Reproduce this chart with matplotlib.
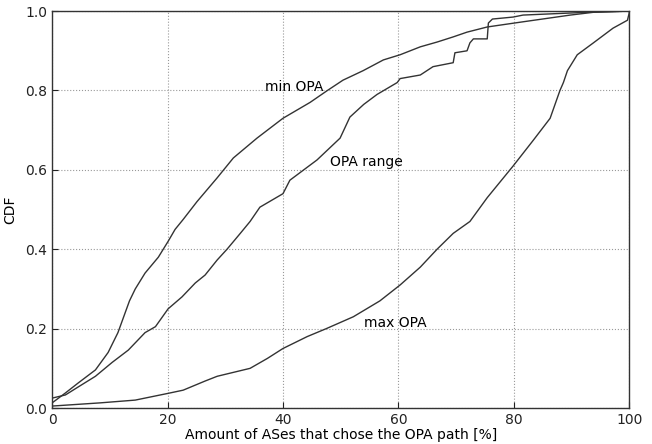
import matplotlib
matplotlib.use('Agg')
import matplotlib.pyplot as plt

# CDF curves (x = share of ASes in %, y = CDF)
min_x = [0, 2.3, 4.5, 7.5, 9.7, 11.4, 12.4, 13.4, 14.4, 16.1, 18.4, 20.1, 21.3, 22.7, 25.1,
         28.6, 31.4, 35.5, 40.0, 44.7, 47.7, 50.4, 53.9, 57.4, 60.3, 63.8, 66.7, 69.5,
         71.9, 75.4, 81.1, 89.8, 93.8, 100]
min_y = [0.013, 0.038, 0.063, 0.096, 0.14, 0.19, 0.23, 0.27, 0.30, 0.34, 0.38, 0.42, 0.45, 0.475,
         0.52, 0.58, 0.63, 0.68, 0.73, 0.77, 0.80, 0.826, 0.85, 0.877, 0.89, 0.91, 0.922,
         0.935, 0.947, 0.96, 0.972, 0.99, 0.997, 1.0]

range_x = [0, 2.3, 4.5, 7.5, 10.4, 13.2, 16.1, 17.9, 20.1, 22.5, 24.8, 26.5, 28.6, 30.3,
           32.6, 34.3, 36.0, 40.0, 41.2, 45.9, 49.9, 51.6, 54.0, 56.3, 59.8, 60.3, 63.8,
           66.0, 69.5, 69.8, 71.9, 72.4, 73.0, 75.4, 75.6, 76.3, 79.9, 81.6, 92.7, 100]
range_y = [0.025, 0.033, 0.053, 0.08, 0.115, 0.146, 0.19, 0.205, 0.25, 0.28, 0.315, 0.335, 0.373,
           0.40, 0.44, 0.47, 0.506, 0.54, 0.574, 0.625, 0.68, 0.733, 0.765, 0.79, 0.82, 0.83,
           0.839, 0.86, 0.87, 0.895, 0.90, 0.92, 0.93, 0.93, 0.97, 0.98, 0.985, 0.99, 0.997, 1.0]

max_x = [0, 8.3, 14.4, 20.1, 22.7, 26.5, 28.6, 34.3, 37.3, 40.0, 44.2, 47.5, 52.2, 56.8,
         60.3, 63.8, 66.7, 69.5, 72.4, 75.4, 79.9, 83.4, 86.3, 88.0, 88.6, 89.3, 91.0,
         93.8, 97.2, 99.7, 100, 100]
max_y = [0.005, 0.013, 0.02, 0.037, 0.045, 0.068, 0.08, 0.10, 0.125, 0.15, 0.18, 0.20, 0.23,
         0.27, 0.31, 0.355, 0.40, 0.44, 0.47, 0.53, 0.61, 0.675, 0.73, 0.80, 0.82, 0.85,
         0.89, 0.92, 0.957, 0.977, 0.995, 1.0]

fig = plt.figure(figsize=(6.52, 4.44), dpi=100)
ax = fig.add_axes([0.080, 0.081, 0.885, 0.894])

line_color = '#333333'
ax.plot(min_x, min_y, color=line_color, linewidth=1.0)
ax.plot(range_x, range_y, color=line_color, linewidth=1.0)
ax.plot(max_x, max_y, color=line_color, linewidth=1.0)

ax.text(36.9, 0.81, 'min OPA', fontsize=10, va='center')
ax.text(48.2, 0.62, 'OPA range', fontsize=10, va='center')
ax.text(54.0, 0.215, 'max OPA', fontsize=10, va='center')

ax.set_xlim(0, 100)
ax.set_ylim(0, 1.0)
ax.set_xticks([0, 20, 40, 60, 80, 100])
ax.set_yticks([0.0, 0.2, 0.4, 0.6, 0.8, 1.0])
ax.set_yticklabels(['0.0', '0.2', '0.4', '0.6', '0.8', '1.0'])
ax.tick_params(direction='in', length=4, labelsize=10, colors='#222222')
ax.grid(True, linestyle=':', color='#999999', linewidth=0.8)

for s in ax.spines.values():
    s.set_color('#333333')
    s.set_linewidth(1.0)

ax.set_xlabel('Amount of ASes that chose the OPA path [%]', fontsize=10, labelpad=1)
ax.set_ylabel('CDF', fontsize=10, labelpad=6)

fig.savefig('out.png', dpi=100)
